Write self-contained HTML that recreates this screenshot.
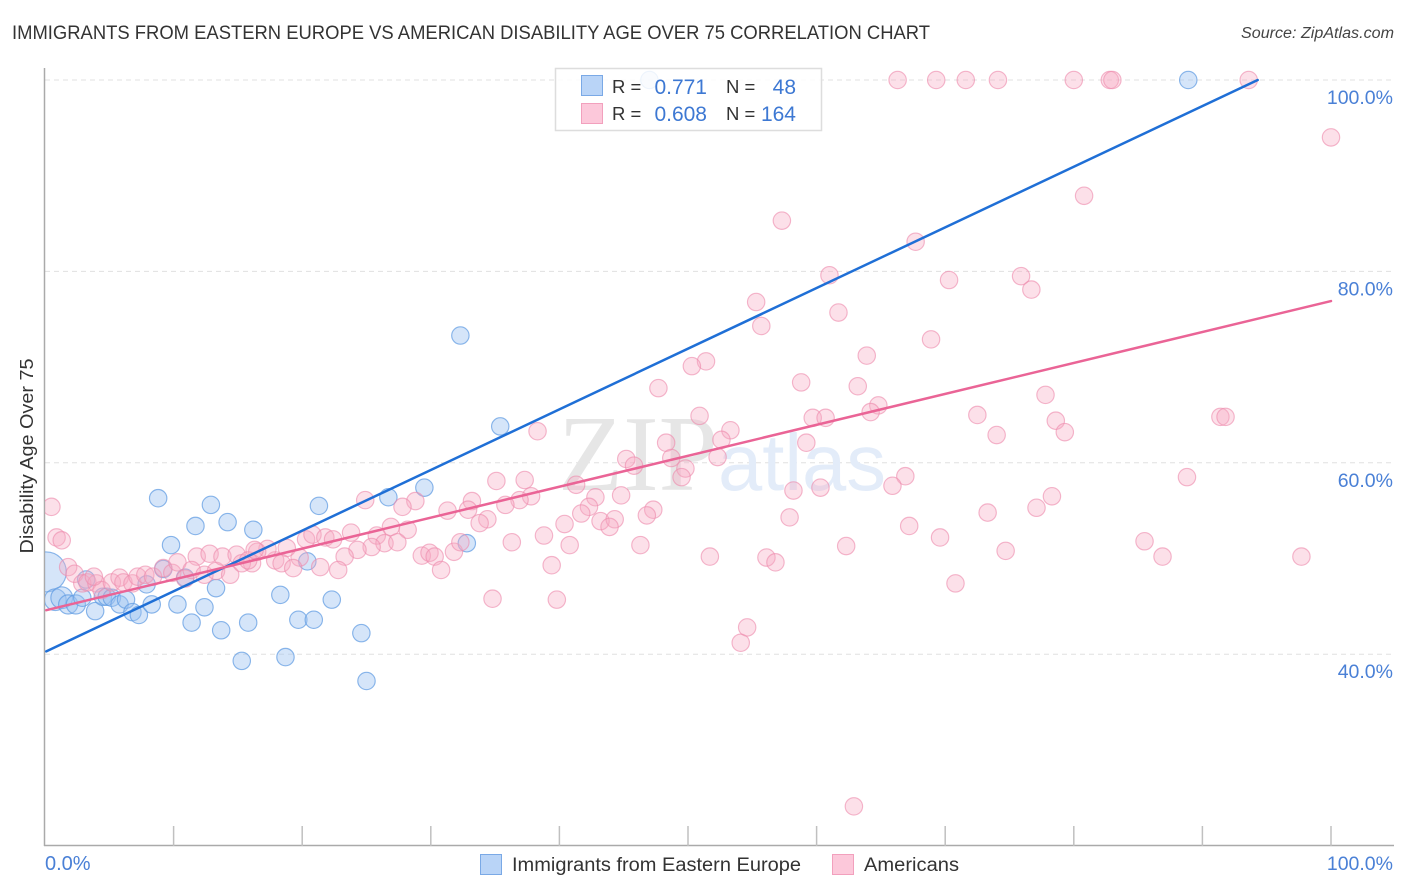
<!DOCTYPE html>
<html lang="en">
<head>
<meta charset="utf-8">
<title>Immigrants from Eastern Europe vs American Disability Age Over 75 Correlation Chart</title>
<style>
html,body{margin:0;padding:0;background:#fff;width:1406px;height:892px;overflow:hidden}
svg{display:block;font-family:"Liberation Sans",sans-serif}
</style>
</head>
<body>
<svg id="chart" xmlns="http://www.w3.org/2000/svg" width="1406" height="892" viewBox="0 0 1406 892">
  <defs><clipPath id="plot-clip"><rect x="45" y="60" width="1349" height="786"/></clipPath></defs>
  <text x="12" y="39" font-size="19.5" fill="#333" textLength="918" lengthAdjust="spacingAndGlyphs">IMMIGRANTS FROM EASTERN EUROPE VS AMERICAN DISABILITY AGE OVER 75 CORRELATION CHART</text>
  <text x="1394" y="38" font-size="15.5" font-style="italic" fill="#444" text-anchor="end" textLength="153" lengthAdjust="spacingAndGlyphs">Source: ZipAtlas.com</text>
  <text transform="translate(33,456) rotate(-90)" font-size="18" fill="#333" text-anchor="middle" textLength="195" lengthAdjust="spacingAndGlyphs">Disability Age Over 75</text>
  <g id="grid"></g>
  <g>
    <text x="558" y="490" font-family="'Liberation Serif',serif" font-size="108" fill="#e6e6e6" textLength="160" lengthAdjust="spacingAndGlyphs">ZIP</text>
    <text x="718" y="490" font-size="80" fill="#e3ecf9" textLength="168" lengthAdjust="spacingAndGlyphs">atlas</text>
  </g>
  <g id="axes"></g>
  <g id="blue-points" clip-path="url(#plot-clip)"></g>
  <g id="pink-points" clip-path="url(#plot-clip)"></g>
  <g id="trends"></g>
  <g>
    <rect x="555.5" y="68.5" width="266" height="62" fill="#fff" fill-opacity="0.85" stroke="#ddd" stroke-width="1.5"/>
    <rect x="581.5" y="75.5" width="21" height="20" fill="#b9d4f7" stroke="#7aa9e6"/>
    <rect x="581.5" y="103.5" width="21" height="20" fill="#fcc8da" stroke="#f2a0bd"/>
    <text x="612" y="93" font-size="18.5" fill="#333">R =</text>
    <text x="707" y="94" font-size="21" fill="#3d78d3" text-anchor="end">0.771</text>
    <text x="726" y="93" font-size="18.5" fill="#333">N =</text>
    <text x="796" y="94" font-size="21" fill="#3d78d3" text-anchor="end">48</text>
    <text x="612" y="120" font-size="18.5" fill="#333">R =</text>
    <text x="707" y="121" font-size="21" fill="#3d78d3" text-anchor="end">0.608</text>
    <text x="726" y="120" font-size="18.5" fill="#333">N =</text>
    <text x="796" y="121" font-size="21" fill="#3d78d3" text-anchor="end">164</text>
  </g>
  <g>
    <rect x="480.5" y="854.5" width="21" height="20" fill="#b9d4f7" stroke="#7aa9e6"/>
    <text x="512" y="871" font-size="19" fill="#333" textLength="289" lengthAdjust="spacingAndGlyphs">Immigrants from Eastern Europe</text>
    <rect x="832.5" y="854.5" width="21" height="20" fill="#fcc8da" stroke="#f2a0bd"/>
    <text x="864" y="871" font-size="19" fill="#333" textLength="95" lengthAdjust="spacingAndGlyphs">Americans</text>
  </g>
</svg>
<script>
const yTickValues = [100, 80, 60, 40];
const yTickLabels = ["100.0%", "80.0%", "60.0%", "40.0%"];
const xTickValues = [10, 20, 30, 40, 50, 60, 70, 80, 90, 100];
const xEndLabels = ["0.0%", "100.0%"];

const blueX = [47.0,88.9,32.3,35.4,8.8,12.9,21.3,26.7,29.5,14.2,11.7,16.2,9.8,32.8,20.4,0.1,9.2,10.9,3.2,7.9,13.3,18.3,22.3,0.8,1.3,1.8,2.4,2.9,3.9,4.5,4.8,5.2,5.8,6.3,6.8,7.3,8.3,10.3,12.4,11.4,13.7,15.8,15.3,18.7,19.7,20.9,24.6,25.0];
const blueY = [100,100,73.3,63.8,56.3,55.6,55.5,56.4,57.4,53.8,53.4,53.0,51.4,51.6,49.7,48.6,48.9,48.0,47.8,47.3,46.9,46.2,45.7,45.7,45.9,45.2,45.2,45.9,44.5,46.0,46.0,45.9,45.2,45.7,44.4,44.1,45.2,45.2,44.9,43.3,42.5,43.3,39.3,39.7,43.6,43.6,42.2,37.2];
const blueWeight = [1,1,1,1,1,1,1,1,1,1,1,1,1,1,1,2.3,1,1,1,1,1,1,1,1.25,1.25,1.1,1.1,1,1,1,1,1,1,1,1,1,1,1,1,1,1,1,1,1,1,1,1,1];

const pinkX = [66.3,69.3,71.6,74.1,80.0,82.8,83.0,93.6,100.0,80.8,57.3,67.7,70.3,75.9,76.7,61.0,55.3,61.7,55.7,68.9,63.9,51.4,50.3,58.8,47.7,63.2,77.8,64.8,64.2,50.9,72.5,59.7,60.7,78.6,79.3,91.4,91.8,53.3,52.6,74.0,38.3,48.3,59.2,48.7,52.3,45.2,45.8,49.8,49.5,66.9,65.9,88.8,35.1,37.3,41.3,58.2,60.3,78.3,24.9,33.2,28.8,27.8,37.8,36.9,35.8,42.8,44.8,47.3,46.8,42.3,41.7,77.1,73.3,57.9,31.3,32.9,40.4,43.2,44.3,43.9,67.2,34.4,33.8,38.8,69.6,23.8,28.2,26.9,46.3,40.8,36.3,20.3,20.8,21.8,22.4,25.8,26.4,27.4,25.4,24.3,23.3,22.8,21.4,19.8,18.8,17.9,18.4,19.3,17.3,16.5,16.1,29.3,29.9,30.3,30.8,31.8,32.3,39.4,34.8,39.8,51.7,56.1,56.8,54.1,54.6,62.9,70.8,62.3,74.7,85.5,86.9,97.7,0.5,0.9,1.3,1.8,2.3,2.9,3.3,4.0,4.4,5.2,5.8,6.1,6.8,7.2,7.8,8.4,9.2,9.9,10.3,10.9,11.8,11.4,12.4,12.8,13.3,13.8,14.4,14.9,15.3,15.8,16.3,3.8];
const pinkY = [100,100,100,100,100,100,100,100,94.0,87.9,85.3,83.1,79.1,79.5,78.1,79.6,76.8,75.7,74.3,72.9,71.2,70.6,70.1,68.4,67.8,68.0,67.1,66.0,65.3,64.9,65.0,64.7,64.7,64.4,63.2,64.8,64.8,63.4,62.4,62.9,63.3,62.1,62.1,60.5,60.6,60.4,59.7,59.4,58.5,58.6,57.6,58.5,58.1,58.2,57.7,57.1,57.4,56.5,56.1,56.0,56.0,55.4,56.5,56.1,55.6,56.4,56.6,55.1,54.5,55.4,54.7,55.3,54.8,54.3,55.0,55.1,53.6,53.9,54.1,53.3,53.4,54.1,53.7,52.4,52.2,52.7,53.0,53.3,51.4,51.4,51.7,52.0,52.5,52.2,52.0,52.4,51.6,51.7,51.2,50.9,50.2,48.8,49.1,50.1,51.1,49.8,49.5,49.0,51.0,50.7,49.5,50.3,50.6,50.2,48.8,50.7,51.7,49.3,45.8,45.7,50.2,50.1,49.6,41.2,42.8,24.1,47.4,51.3,50.8,51.8,50.2,50.2,55.4,52.2,51.9,49.1,48.4,47.4,47.5,47.4,46.7,47.5,48.0,47.5,47.4,48.1,48.3,48.1,49.0,48.5,49.6,47.9,50.2,48.8,48.3,50.5,48.7,50.2,48.3,50.4,49.5,49.8,50.9,48.1];

const blueTrendX = [0.1, 94.3];
const blueTrendY = [40.3, 100];
const pinkTrendX = [0.1, 100];
const pinkTrendY = [44.6, 76.9];

const NS = "http://www.w3.org/2000/svg";
function xScale(v) { return 45 + v * 12.86; }
function yScale(v) { return 80 + (100 - v) * 9.57; }
function rScale(w) { return 8.7 * w; }
function make(tag, attrs, parent) {
  const el = document.createElementNS(NS, tag);
  for (const k in attrs) el.setAttribute(k, attrs[k]);
  parent.appendChild(el);
  return el;
}

const grid = document.getElementById("grid");
const axes = document.getElementById("axes");
yTickValues.forEach(function (v, i) {
  const line = make("line", {x1: 45, x2: 1394, y1: yScale(v), y2: yScale(v), stroke: "#e0e0e0", "stroke-width": 1, "stroke-dasharray": "5 4"}, grid);
  
  
  const label = make("text", {x: 1393, y: yScale(v) + 24, "font-size": 19.5, fill: "#4a80d6", "text-anchor": "end"}, axes);
  
  
  label.textContent = yTickLabels[i];
});
const yAxis = make("line", {x1: 44.5, x2: 44.5, y1: 68, y2: 846, stroke: "#aaa", "stroke-width": 1.5}, axes);


const xAxis = make("line", {x1: 44, x2: 1394, y1: 845.5, y2: 845.5, stroke: "#aaa", "stroke-width": 1.5}, axes);


xTickValues.forEach(function (v) {
  const tick = make("line", {x1: xScale(v), x2: xScale(v), y1: 826, y2: 846, stroke: "#c0c0c0", "stroke-width": 1.5}, axes);
  
  
});
const xLabelLeft = make("text", {x: 45, y: 870, "font-size": 20, fill: "#4a80d6"}, axes);


xLabelLeft.textContent = xEndLabels[0];
const xLabelRight = make("text", {x: 1393, y: 870, "font-size": 19.5, fill: "#4a80d6", "text-anchor": "end"}, axes);


xLabelRight.textContent = xEndLabels[1];

const pinkGroup = document.getElementById("pink-points");
pinkX.forEach(function (v, i) {
  const c = make("circle", {cx: xScale(v), cy: yScale(pinkY[i]), r: 8.7, fill: "#f8a9c3", "fill-opacity": 0.36, stroke: "#ee8bac", "stroke-opacity": 0.62, "stroke-width": 1.15}, pinkGroup);
  
  
});
const blueGroup = document.getElementById("blue-points");
blueX.forEach(function (v, i) {
  const c = make("circle", {cx: xScale(v), cy: yScale(blueY[i]), r: rScale(blueWeight[i]), fill: "#9cc2f0", "fill-opacity": 0.42, stroke: "#5f9be2", "stroke-opacity": 0.72, "stroke-width": 1.15}, blueGroup);
  
  
});

const trends = document.getElementById("trends");
const blueTrend = make("line", {x1: xScale(blueTrendX[0]), y1: yScale(blueTrendY[0]), x2: xScale(blueTrendX[1]), y2: yScale(blueTrendY[1]), stroke: "#1f6fd6", "stroke-width": 2.5, "stroke-linecap": "round"}, trends);


const pinkTrend = make("line", {x1: xScale(pinkTrendX[0]), y1: yScale(pinkTrendY[0]), x2: xScale(pinkTrendX[1]), y2: yScale(pinkTrendY[1]), stroke: "#ea6496", "stroke-width": 2.5, "stroke-linecap": "round"}, trends);


</script>
</body>
</html>
